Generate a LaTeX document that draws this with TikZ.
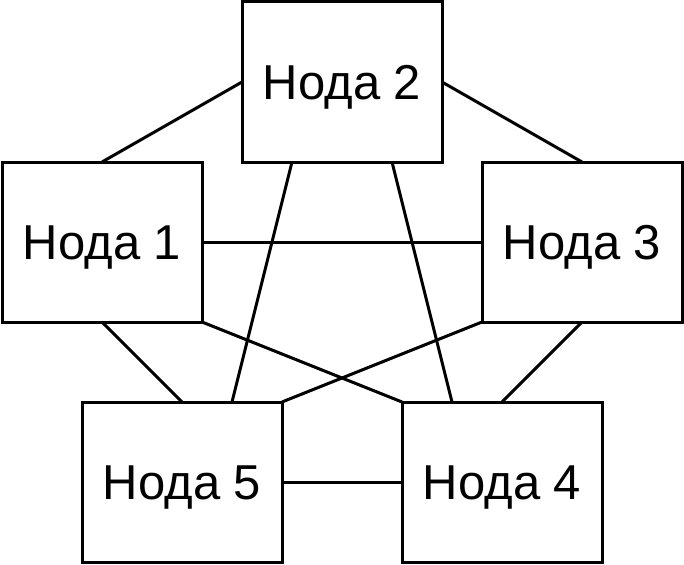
\documentclass[tikz,border=0pt]{standalone}
\usepackage{fontspec}
\setmainfont{Liberation Sans}
\usetikzlibrary{calc}
\begin{document}
\begin{tikzpicture}[x=1pt,y=-1pt,
  box/.style={draw=black,line width=3pt,fill=white,minimum width=200pt,minimum height=160pt,inner sep=0pt,outer sep=0pt,text height=35pt,text depth=0pt,font=\fontsize{49}{58}\selectfont},
  link/.style={draw=black,line width=3pt}]
\useasboundingbox (0,0) rectangle (684,564);
\coordinate (c2) at (342,82);
\coordinate (c1) at (102,242);
\coordinate (c3) at (582,242);
\coordinate (c5) at (182,482);
\coordinate (c4) at (502,482);
\node[box] (n2) at (c2) {Нода 2};
\node[box] (n1) at (c1) {Нода 1};
\node[box] (n3) at (c3) {Нода 3};
\node[box] (n5) at (c5) {Нода 5};
\node[box] (n4) at (c4) {Нода 4};
\draw[link] (n2.west) -- (n1.north);
\draw[link] (n2.east) -- (n3.north);
\draw[link] (n1.east) -- (n3.west);
\draw[link] ($(n2.south west)!0.25!(n2.south east)$) -- ($(n5.north west)!0.75!(n5.north east)$);
\draw[link] ($(n2.south west)!0.75!(n2.south east)$) -- ($(n4.north west)!0.25!(n4.north east)$);
\draw[link] (n1.south) -- (n5.north);
\draw[link] (n1.south east) -- (n4.north west);
\draw[link] (n3.south west) -- (n5.north east);
\draw[link] (n3.south) -- (n4.north);
\draw[link] (n5.east) -- (n4.west);
\end{tikzpicture}
\end{document}
